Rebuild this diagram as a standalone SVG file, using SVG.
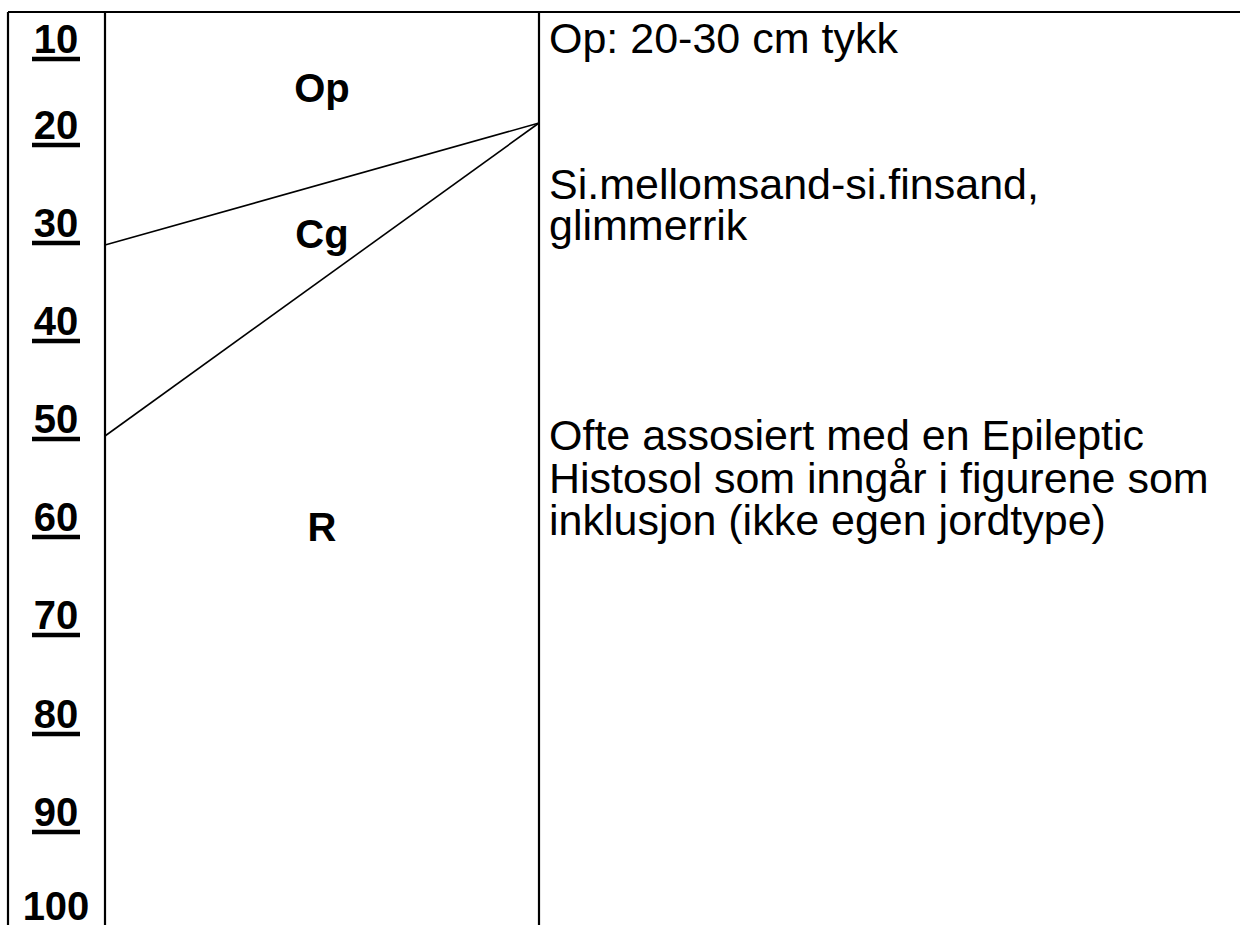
<svg xmlns="http://www.w3.org/2000/svg" width="1240" height="925" viewBox="0 0 1240 925">
<style>
.frame{stroke:#000;stroke-width:2.2;fill:none}
.bound{stroke:#000;stroke-width:1.6;fill:none}
.tick{font-family:"Liberation Sans",Arial,sans-serif;font-weight:bold;font-size:40px;text-anchor:middle;fill:#000}
.ul{stroke:#000;stroke-width:4.5}
.hz{font-family:"Liberation Sans",Arial,sans-serif;font-weight:bold;font-size:40px;text-anchor:middle;fill:#000}
.desc{font-family:"Liberation Sans",Arial,sans-serif;font-size:43px;fill:#000}
</style>
<rect width="1240" height="925" fill="#fff"/>
<g id="frame">
<line class="frame" x1="8" y1="12" x2="1240" y2="12"/>
<line class="frame" x1="8" y1="12" x2="8" y2="925"/>
<line class="frame" x1="105" y1="12" x2="105" y2="925"/>
<line class="frame" x1="539" y1="12" x2="539" y2="925"/>
</g>
<g id="scale">
<text class="tick" x="56" y="53">10</text><line class="ul" x1="32" y1="59" x2="80" y2="59"/>
<text class="tick" x="56" y="139">20</text><line class="ul" x1="32" y1="145" x2="80" y2="145"/>
<text class="tick" x="56" y="237">30</text><line class="ul" x1="32" y1="243" x2="80" y2="243"/>
<text class="tick" x="56" y="335">40</text><line class="ul" x1="32" y1="341" x2="80" y2="341"/>
<text class="tick" x="56" y="433">50</text><line class="ul" x1="32" y1="439" x2="80" y2="439"/>
<text class="tick" x="56" y="531">60</text><line class="ul" x1="32" y1="537" x2="80" y2="537"/>
<text class="tick" x="56" y="629">70</text><line class="ul" x1="32" y1="635" x2="80" y2="635"/>
<text class="tick" x="56" y="728">80</text><line class="ul" x1="32" y1="734" x2="80" y2="734"/>
<text class="tick" x="56" y="826">90</text><line class="ul" x1="32" y1="832" x2="80" y2="832"/>
<text class="tick" x="56" y="920">100</text>
</g>
<g id="connectors">
<line class="bound" x1="105" y1="245" x2="539" y2="123"/>
<line class="bound" x1="105" y1="436" x2="539" y2="123"/>
</g>
<g id="horizon-Op"><text class="hz" x="322" y="102">Op</text></g>
<g id="horizon-Cg"><text class="hz" x="322" y="248">Cg</text></g>
<g id="horizon-R"><text class="hz" x="322" y="541">R</text></g>
<g id="description">
<text class="desc" x="549" y="53">Op: 20-30 cm tykk</text>
<text class="desc" x="549" y="199">Si.mellomsand-si.finsand,</text>
<text class="desc" x="549" y="240">glimmerrik</text>
<text class="desc" x="549" y="450">Ofte assosiert med en Epileptic</text>
<text class="desc" x="549" y="493">Histosol som inngår i figurene som</text>
<text class="desc" x="549" y="535">inklusjon (ikke egen jordtype)</text>
</g>
</svg>
